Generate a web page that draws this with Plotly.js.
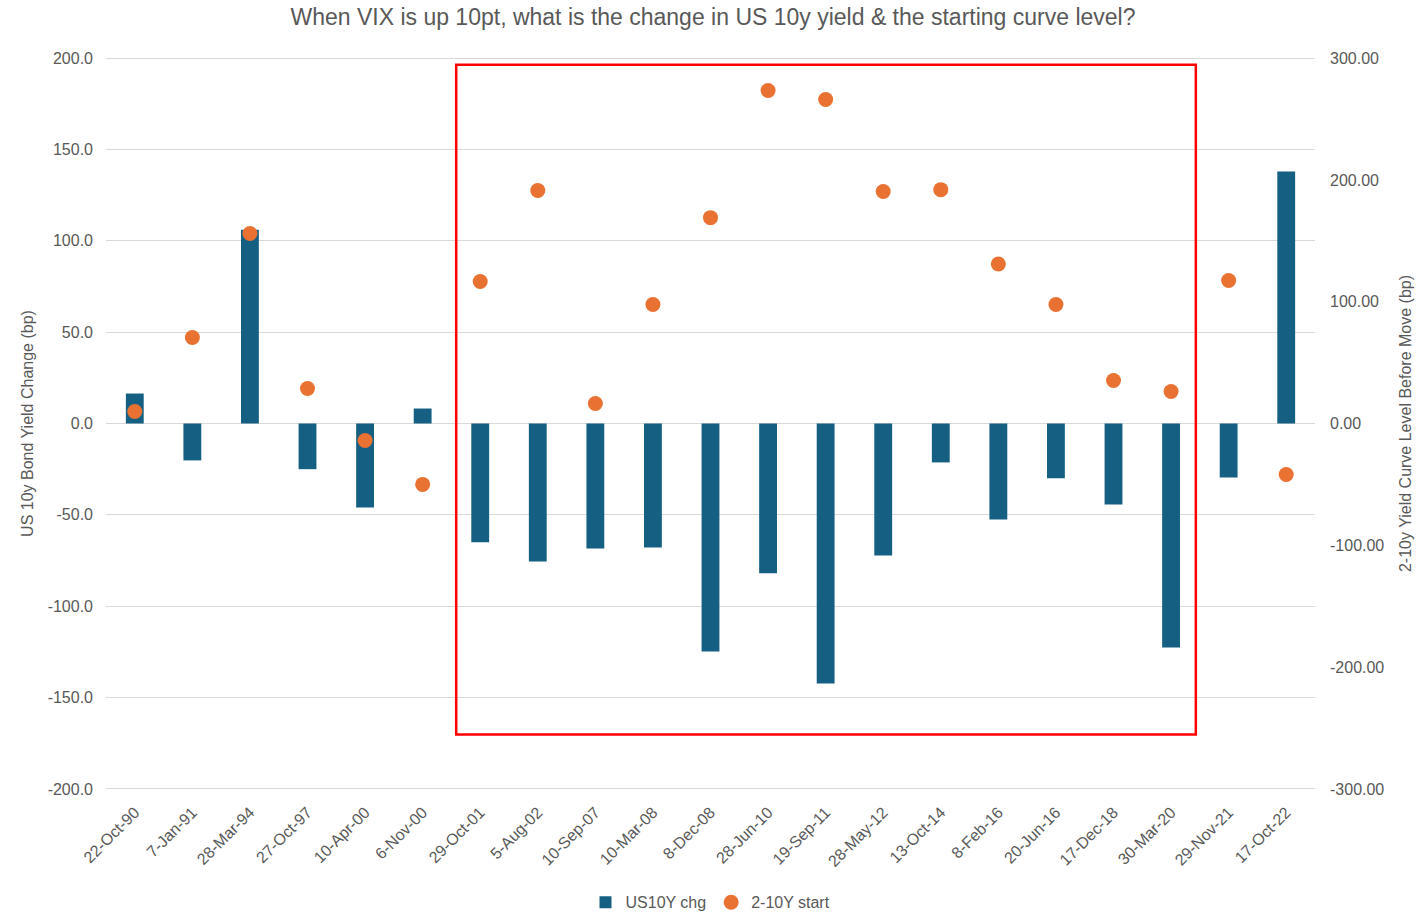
<!DOCTYPE html>
<html>
<head>
<meta charset="utf-8">
<script src="https://cdn.plot.ly/plotly-3.0.1.min.js"></script>
<style>html,body{margin:0;padding:0;background:#fff;}#chart{width:1426px;height:922px;}</style>
</head>
<body>
<div id="chart"></div>
<script>
const dates = ["22-Oct-90","7-Jan-91","28-Mar-94","27-Oct-97","10-Apr-00","6-Nov-00","29-Oct-01","5-Aug-02","10-Sep-07","10-Mar-08","8-Dec-08","28-Jun-10","19-Sep-11","28-May-12","13-Oct-14","8-Feb-16","20-Jun-16","17-Dec-18","30-Mar-20","29-Nov-21","17-Oct-22"];
const us10yChg = [16.4,-20.2,106,-25,-46,8.2,-65,-75.5,-68.4,-67.9,-124.8,-82,-142.3,-72.2,-21.3,-52.5,-30,-44.3,-122.6,-29.5,137.9];
const curveStart = [9.8,70.6,156,28.7,-14,-50,116.6,191.3,16.4,97.7,169,273.4,266,190.5,192,131,97.7,35.3,26.3,117.4,-41.9];
const leftTicks = [200,150,100,50,0,-50,-100,-150,-200];
const leftTickText = ["200.0","150.0","100.0","50.0","0.0","-50.0","-100.0","-150.0","-200.0"];
const rightTicks = [300,200,100,0,-100,-200,-300];
const rightTickText = ["300.00","200.00","100.00","0.00","-100.00","-200.00","-300.00"];
const titleText = "When VIX is up 10pt, what is the change in US 10y yield & the starting curve level?";

const font = "Liberation Sans, Arial, sans-serif";
const grey = "#595959";

const traces = [
  {type:"bar", name:"US10Y chg", x:dates, y:us10yChg, marker:{color:"#156082"}, width:0.31, yaxis:"y"},
  {type:"scatter", mode:"markers", name:"2-10Y start", x:dates, y:curveStart, marker:{color:"#E97132", size:15}, yaxis:"y2"}
];

const layout = {
  width:1426, height:922,
  margin:{l:106, r:111, t:57, b:132, autoexpand:false},
  paper_bgcolor:"#fff", plot_bgcolor:"#fff",
  font:{family:font, color:grey, size:16},
  title:{text:titleText, x:0.5, xanchor:"center", y:0.99, yanchor:"top", font:{size:23, color:grey, family:font}},
  showlegend:true,
  legend:{orientation:"h", x:0.5, xanchor:"center", y:-0.13, yanchor:"top", font:{size:16, color:grey}},
  xaxis:{type:"category", automargin:false, tickangle:-45, showgrid:false, zeroline:false, showline:false, ticks:"", ticklabelstandoff:9, tickfont:{size:16, color:grey}, range:[-0.5,20.5]},
  yaxis:{automargin:false, range:[-200.6,200.6], tickmode:"array", tickvals:leftTicks, ticktext:leftTickText, gridcolor:"#d9d9d9", gridwidth:1.3, zeroline:false, showline:false, ticks:"", ticklabelstandoff:12, tickfont:{size:16, color:grey},
    title:{text:"US 10y Bond Yield Change (bp)", font:{size:16, color:grey}, standoff:10}},
  yaxis2:{automargin:false, range:[-300.9,300.9], tickmode:"array", tickvals:rightTicks, ticktext:rightTickText, overlaying:"y", side:"right", showgrid:false, zeroline:false, showline:false, ticks:"", ticklabelstandoff:14, tickfont:{size:16, color:grey},
    title:{text:"2-10y Yield Curve Level Before Move (bp)", font:{size:16, color:grey}, standoff:16}},
  shapes:[{type:"rect", xref:"x", yref:"y", x0:5.583, x1:18.43, y0:-170.2, y1:196.4, line:{color:"#FF0000", width:2.5}, fillcolor:"rgba(0,0,0,0)"}]
};

Plotly.newPlot("chart", traces, layout, {displayModeBar:false, responsive:false});
</script>
</body>
</html>
